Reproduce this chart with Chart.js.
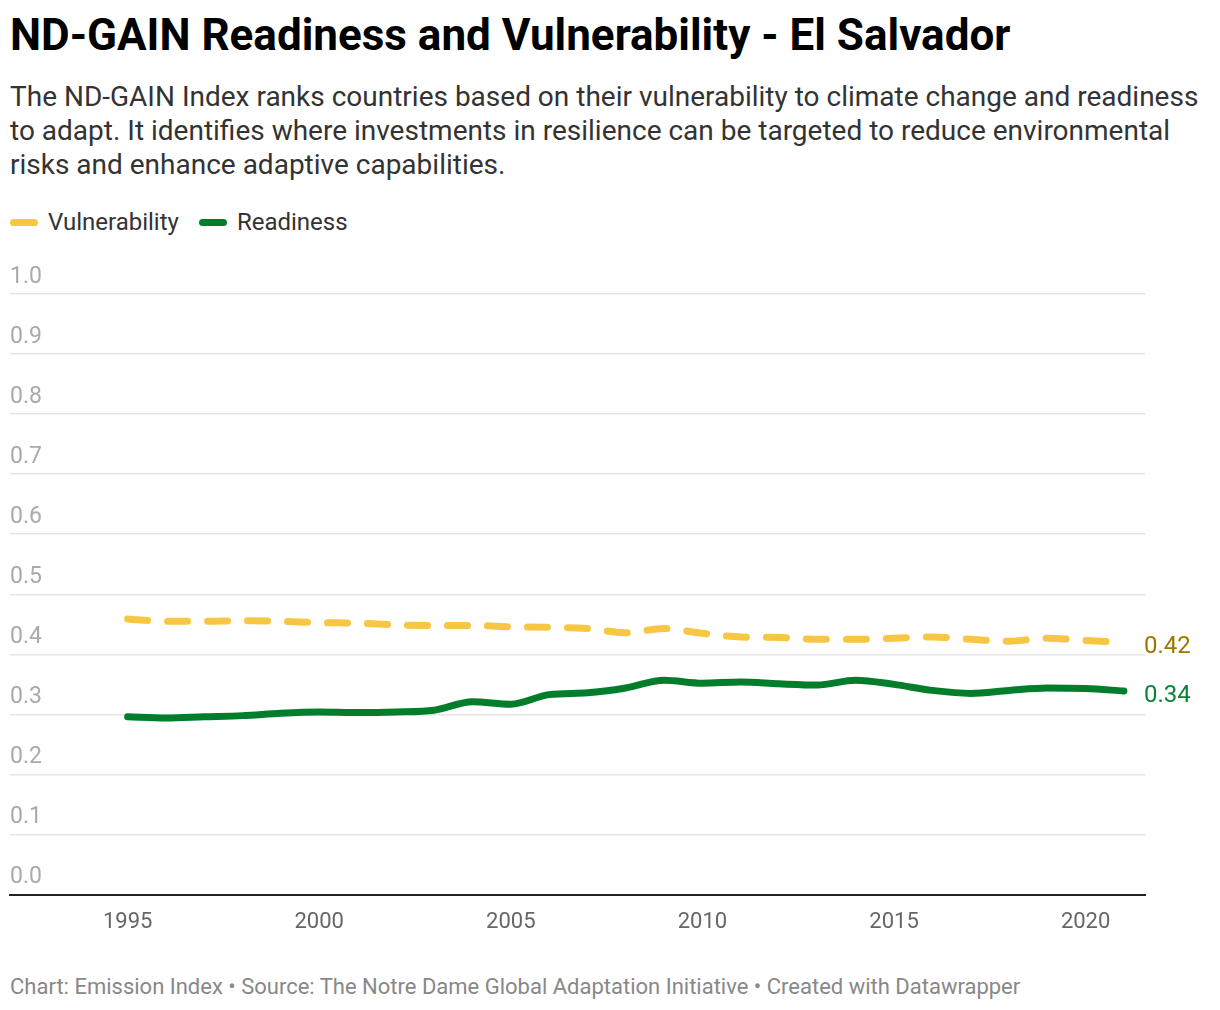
<!DOCTYPE html>
<html>
<head>
<meta charset="utf-8">
<script src="https://cdn.jsdelivr.net/npm/chart.js@4.4.0/dist/chart.umd.min.js"></script>
<style>
  body { margin: 0; background: #fff; font-family: Roboto, sans-serif; }
  #wrap { position: relative; width: 1220px; height: 1010px; }
  .abs { position: absolute; left: 10px; white-space: nowrap; }
  #title { top: 12px; font-size: 44px; line-height: 46px; font-weight: 700; color: #000; }
  #sub { top: 80px; font-size: 28px; line-height: 34px; color: #333; }
  #legend { top: 207px; font-size: 24px; line-height: 30px; color: #333; display: flex; align-items: center; }
  .sw { display: inline-block; width: 28px; height: 7px; border-radius: 4px; margin-right: 10px; }
  .item { display: flex; align-items: center; margin-right: 20px; }
  #foot { top: 974px; font-size: 22px; line-height: 26px; color: #888; }
  #chart { position: absolute; left: 0; top: 250px; }
</style>
</head>
<body>
<div id="wrap">
  <div id="title" class="abs">ND-GAIN Readiness and Vulnerability - El Salvador</div>
  <div id="sub" class="abs">The ND-GAIN Index ranks countries based on their vulnerability to climate change and readiness<br>to adapt. It identifies where investments in resilience can be targeted to reduce environmental<br>risks and enhance adaptive capabilities.</div>
  <div id="legend" class="abs"></div>
  <canvas id="chart" width="1220" height="700"></canvas>
  <div id="foot" class="abs">Chart: Emission Index • Source: The Notre Dame Global Adaptation Initiative • Created with Datawrapper</div>
</div>
<script>
'use strict';

// years 1995..2021
const years = [1995, 1996, 1997, 1998, 1999, 2000, 2001, 2002, 2003, 2004, 2005, 2006, 2007,
  2008, 2009, 2010, 2011, 2012, 2013, 2014, 2015, 2016, 2017, 2018, 2019, 2020, 2021];

const vulnerability = [0.459, 0.455, 0.455, 0.456, 0.455, 0.453, 0.452, 0.449, 0.448, 0.448, 0.446, 0.445, 0.443,
  0.436, 0.443, 0.435, 0.429, 0.428, 0.425, 0.425, 0.427, 0.429, 0.425, 0.422, 0.427, 0.423, 0.42];

const readiness = [0.296, 0.294, 0.296, 0.298, 0.302, 0.304, 0.303, 0.304, 0.307, 0.321, 0.317, 0.333, 0.336,
  0.344, 0.357, 0.352, 0.354, 0.351, 0.349, 0.357, 0.35, 0.34, 0.335, 0.34, 0.344, 0.343, 0.339];

const xTicks = [1995, 2000, 2005, 2010, 2015, 2020];
const yTicks = [0, 0.1, 0.2, 0.3, 0.4, 0.5, 0.6, 0.7, 0.8, 0.9, 1.0];

const seriesNames = ['Vulnerability', 'Readiness'];
const seriesColors = ['#f7c744', '#017d2b'];
const labelColors = ['#9c7800', '#0a8434'];

// html legend, datawrapper style
const legendEl = document.getElementById('legend');
for (let i = 0; i < seriesNames.length; i++) {
  const item = document.createElement('span');
  item.className = 'item';
  item.innerHTML = '<span class="sw" style="background:' + seriesColors[i] + '"></span>' + seriesNames[i];
  legendEl.appendChild(item);
}

function toPoints(vals) {
  return vals.map((v, i) => ({ x: years[i], y: v }));
}

// value labels at the end of each line
const endLabels = {
  id: 'endLabels',
  afterDatasetsDraw(chart) {
    const ctx = chart.ctx;
    ctx.save();
    ctx.font = '24px Roboto';
    ctx.textAlign = 'left';
    ctx.textBaseline = 'middle';
    chart.data.datasets.forEach((ds, i) => {
      const pts = chart.getDatasetMeta(i).data;
      const last = pts[pts.length - 1];
      ctx.fillStyle = labelColors[i];
      ctx.fillText(ds.data[ds.data.length - 1].y.toFixed(2), last.x + 20, last.y + 5);
    });
    ctx.restore();
  }
};

new Chart(document.getElementById('chart'), {
  type: 'line',
  data: {
    datasets: [{
      label: seriesNames[0],
      data: toPoints(vulnerability),
      borderColor: seriesColors[0],
      borderWidth: 7,
      borderDash: [20, 20],
      borderCapStyle: 'round',
      cubicInterpolationMode: 'monotone',
      pointRadius: 0
    }, {
      label: seriesNames[1],
      data: toPoints(readiness),
      borderColor: seriesColors[1],
      borderWidth: 7,
      borderCapStyle: 'round',
      cubicInterpolationMode: 'monotone',
      pointRadius: 0
    }]
  },
  options: {
    responsive: false,
    animation: false,
    layout: { padding: { left: 10, right: 75, top: 44, bottom: 7 } },
    plugins: { legend: { display: false }, tooltip: { enabled: false } },
    scales: {
      x: {
        type: 'linear',
        min: 1991.93,
        max: 2021.55,
        afterBuildTicks: (axis) => { axis.ticks = xTicks.map(v => ({ value: v })); },
        grid: { display: false },
        border: { display: true, color: '#222', width: 2 },
        ticks: {
          color: '#666',
          font: { family: 'Roboto', size: 22 },
          padding: 7,
          maxRotation: 0,
          callback: (v) => String(v)
        }
      },
      y: {
        min: 0,
        max: 1,
        afterBuildTicks: (axis) => { axis.ticks = yTicks.map(v => ({ value: v })); },
        grid: { color: '#e5e5e5', lineWidth: 1.5, drawTicks: false },
        border: { display: false },
        ticks: {
          mirror: true,
          padding: 0,
          labelOffset: -17,
          color: '#aaa',
          font: { family: 'Roboto', size: 23 },
          callback: (v) => v.toFixed(1)
        }
      }
    }
  },
  plugins: [endLabels]
});
</script>
</body>
</html>
